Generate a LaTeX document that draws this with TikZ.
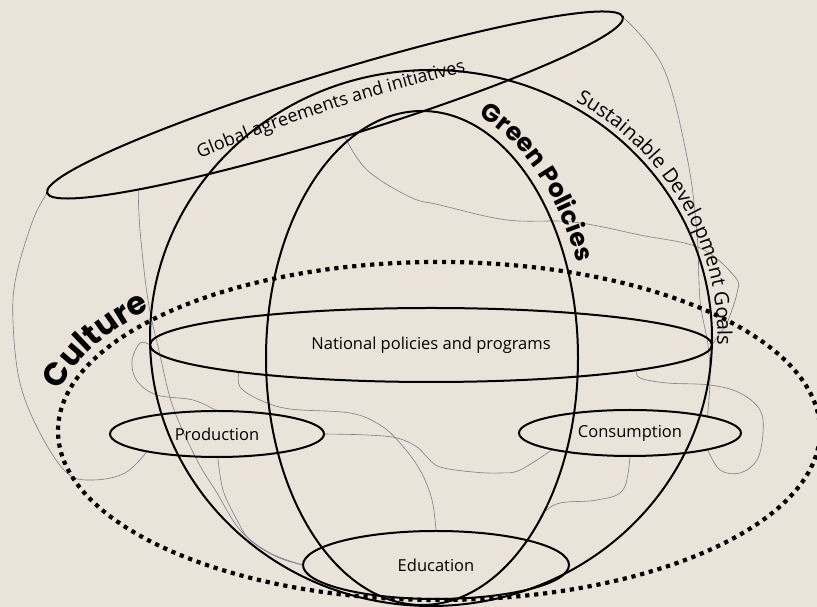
\documentclass[tikz,border=0pt]{standalone}
\usepackage{fontspec}
\setmainfont{Open Sans}
\newfontfamily\headfont{Poppins}
\usetikzlibrary{shapes.geometric,decorations.text}
\definecolor{paper}{RGB}{234,227,218}
\definecolor{wirecol}{RGB}{118,126,134}
\pgfdeclarelayer{paperlayer}
\pgfdeclarelayer{wirelayer}
\pgfsetlayers{paperlayer,wirelayer,main}
\tikzset{
  ring/.style={ellipse, draw=black, line width=2pt, inner sep=0pt, outer sep=0pt},
  dotring/.style={ellipse, draw=black, line width=4.2pt, dash pattern=on 4.2pt off 4.8pt, inner sep=0pt, outer sep=0pt},
  wire/.style={draw=wirecol, line width=0.6pt},
  lab/.style={font=\fontsize{16.5}{19}\selectfont},
}
\begin{document}
\begin{tikzpicture}[x=1pt,y=1pt]
\begin{pgfonlayer}{paperlayer}
\fill[paper] (0,0) rectangle (817,607);
\end{pgfonlayer}
\useasboundingbox (0,0) rectangle (817,607);

% shapes
\node[ring, minimum width=562pt, minimum height=536pt] (sdg) at (431,269) {};
\node[ring, minimum width=312pt, minimum height=494pt] (gp) at (422,249) {};
\node[ring, lab, minimum width=562pt, minimum height=74pt] (nat) at (431,262) {National policies and programs};
\node[ring, rotate=17, minimum width=602pt, minimum height=66pt] (glob) at (335,502) {};
\node[dotring, minimum width=762pt, minimum height=338pt] (cult) at (439,176) {};
\node[ring, lab, minimum width=214pt, minimum height=46pt] (prod) at (217,173) {Production};
\node[ring, lab, minimum width=222pt, minimum height=46pt] (cons) at (630,174) {Consumption};
\node[ring, lab, minimum width=266pt, minimum height=68pt] (edu) at (436,42) {Education};

% curved labels
\path[decorate, decoration={text along path, text align=center,
  text={|\fontsize{18}{21}\selectfont|Global agreements and initiatives}}]
  (190,445) to[bend left=4] (476,538);
\path[decorate, decoration={text along path, text align=center,
  text={|\fontsize{20}{23}\selectfont|Sustainable Development Goals}}]
  (556.8,515.3) arc[start angle=64, end angle=-6, x radius=286, y radius=273];
\path[decorate, decoration={text along path, text align=center,
  text={|\headfont\bfseries\fontsize{25}{29}\selectfont|Green Policies}}]
  (442.2,504.2) arc[start angle=83, end angle=13, x radius=167, y radius=258];
\path[decorate, decoration={text along path, text align=center,
  text={|\headfont\bfseries\fontsize{32}{36}\selectfont|Culture}}]
  (53.8,194.2) arc[start angle=176, end angle=134, x radius=386, y radius=174];

% connectors
\begin{pgfonlayer}{wirelayer}
\draw[wire] plot[smooth, tension=0.6] coordinates {(glob.west) (33,387) (16,330) (13,285) (20,224) (40,174) (67,134) (93,127) (125,134) (prod.194)};
\draw[wire] plot[smooth, tension=0.6] coordinates {(glob.south west) (140,377) (148,307) (160,252) (173,200) (197,147) (217,114) (240,77) (270,54) (edu.west)};
\draw[wire] plot[smooth, tension=0.6] coordinates {(nat.west) (140,264) (132,246) (137,226) (157,212) (193,207) (prod.north)};
\draw[wire] plot[smooth, tension=0.6] coordinates {(nat.188) (240,220) (260,207) (290,198) (350,194) (380,182) (400,164) (420,137) (432,107) (edu.north)};
\draw[wire] plot[smooth, tension=0.6] coordinates {(prod.-88) (223,117) (237,87) (250,67) (277,50) (edu.west)};
\draw[wire] plot[smooth, tension=0.6] coordinates {(prod.east) (367,172) (397,169) (417,160) (427,150) (440,140) (473,135) (500,134) (520,137) (cons.192)};
\draw[wire] plot[smooth, tension=0.6] coordinates {(glob.south) (367,437) (410,410) (440,402) (507,387) (573,385) (640,372) (700,359) (735,330) (737,314) (727,284) (720,274) (nat.east)};
\draw[wire] plot[smooth, tension=0.6] coordinates {(glob.east) (663,540) (687,450) (697,374) (700,307) (708,262) (710,227) (cons.12)};
\draw[wire] plot[smooth, tension=0.6] coordinates {(nat.353) (640,229) (667,224) (710,222) (740,214) (760,197) (763,174) (757,147) (740,134) (720,137) (cons.-12)};
\draw[wire] plot[smooth, tension=0.6] coordinates {(cons.south) (623,117) (597,107) (560,104) (543,94) (gp.-54)};
\end{pgfonlayer}
\end{tikzpicture}
\end{document}
